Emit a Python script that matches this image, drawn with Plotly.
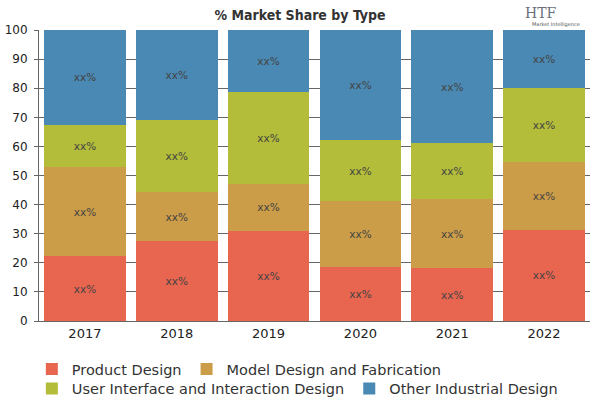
import plotly.graph_objects as go

years = ["2017", "2018", "2019", "2020", "2021", "2022"]
product_design = [22.3, 27.5, 30.9, 18.5, 18.1, 31.3]
model_design = [30.6, 16.8, 16.3, 22.6, 23.7, 23.2]
ui_design = [14.5, 24.8, 31.5, 21.1, 19.3, 25.5]
other_design = [32.6, 30.9, 21.3, 37.8, 38.9, 20.0]

series = [
    ("Product Design", product_design, "#E8654F", "legend"),
    ("Model Design and Fabrication", model_design, "#CC9D48", "legend"),
    ("User Interface and Interaction Design", ui_design, "#B3BD3A", "legend2"),
    ("Other Industrial Design", other_design, "#4A89B3", "legend2"),
]

fig = go.Figure()
for name, vals, color, leg in series:
    fig.add_trace(go.Bar(
        x=years, y=vals, name=name, legend=leg,
        marker=dict(color=color, line=dict(width=0)),
        text=["xx%"] * len(vals),
        textposition="inside",
        insidetextanchor="middle",
        textfont=dict(family="DejaVu Sans", size=10.5, color="#444444"),
        hoverinfo="skip",
    ))

legend_common = dict(
    orientation="h",
    xanchor="left",
    yanchor="middle",
    font=dict(family="DejaVu Sans", size=14.5, color="#333333"),
    traceorder="normal",
    bgcolor="rgba(0,0,0,0)",
)

fig.update_layout(
    barmode="stack",
    bargap=0.11,
    width=600, height=400,
    margin=dict(l=39, r=10, t=30, b=79, autoexpand=False),
    paper_bgcolor="white",
    plot_bgcolor="white",
    title=dict(
        text="<b>% Market Share by Type</b>",
        x=0.5, xanchor="center", y=0.962, yanchor="middle",
        font=dict(family="DejaVu Sans Condensed, DejaVu Sans, sans-serif", size=14, color="#333333"),
    ),
    showlegend=True,
    legend=dict(legend_common, x=-0.013, y=-0.165),
    legend2=dict(legend_common, x=-0.013, y=-0.232),
    xaxis=dict(
        showline=True, linecolor="#666666", linewidth=1,
        ticks="", tickfont=dict(family="DejaVu Sans", size=13, color="#222222"),
        showgrid=False,
    ),
    yaxis=dict(
        range=[0, 100], dtick=10,
        showline=True, linecolor="#666666", linewidth=1,
        ticks="outside", ticklen=4, tickcolor="#666666",
        ticklabelstandoff=4,
        showgrid=True, gridcolor="#666666", gridwidth=1,
        tickfont=dict(family="DejaVu Sans", size=12, color="#222222"),
        zeroline=False,
    ),
    annotations=[
        dict(text="HTF", x=0.911, y=1.060, xref="paper", yref="paper",
             xanchor="center", yanchor="middle",
             showarrow=False, font=dict(family="DejaVu Serif", size=14, color="#6a6f7a")),
        dict(text="Market Intelligence", x=0.938, y=1.018, xref="paper", yref="paper",
             xanchor="center", yanchor="middle",
             showarrow=False, font=dict(family="DejaVu Sans", size=5, color="#555555")),
    ],
)

# remove the browser's default 8px body margin so the 600x400 figure fills the window
fig.write_html("out.html", config={"displayModeBar": False},
               post_script="document.body.style.margin='0';")
